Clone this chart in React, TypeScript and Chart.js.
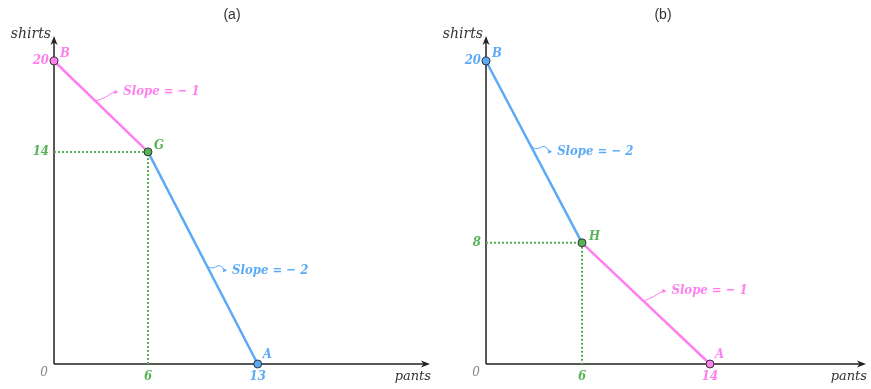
import React, { useEffect, useRef } from "react";
import { Chart, registerables } from "chart.js";
Chart.register(...registerables);

const PINK = "#ff7ff0";
const BLUE = "#5caaf6";
const GREEN = "#57b357";
const AXIS = "#222222";

// Panel (a)
const panelAName = "(a)";
const panelANames = ["B", "G", "A"];
const panelAX = [0, 6, 13];
const panelAY = [20, 14, 0];
const panelASlopes = ["Slope = \u2212 1", "Slope = \u2212 2"];
const panelAColors = [PINK, GREEN, BLUE];
const panelASegColors = [PINK, BLUE];

// Panel (b)
const panelBName = "(b)";
const panelBNames = ["B", "H", "A"];
const panelBX = [0, 6, 14];
const panelBY = [20, 8, 0];
const panelBSlopes = ["Slope = \u2212 2", "Slope = \u2212 1"];
const panelBColors = [BLUE, GREEN, PINK];
const panelBSegColors = [BLUE, PINK];

const xAxisTitle = "pants";
const yAxisTitle = "shirts";
const originLabel = "0";

const FAM = "'DejaVu Serif Condensed', 'DejaVu Serif'";
const LABEL_FONT = "italic bold 13px " + FAM;

type PanelCfg = {
  name: string;
  names: string[];
  xs: number[];
  ys: number[];
  slopes: string[];
  colors: string[];
  segColors: string[];
  width: number;
  axisLeft: number;
  padRight: number;
  xMax: number;
  yMax: number;
  titleX: number;
  leaders: { t: number; dx: number; dy: number }[];
  labelOffsets: { dx: number; dy: number }[];
};

function arrowHead(ctx: CanvasRenderingContext2D, x: number, y: number, dir: "up" | "right") {
  ctx.save();
  ctx.translate(x, y);
  if (dir === "up") ctx.rotate(-Math.PI / 2);
  ctx.beginPath();
  ctx.moveTo(0, 0);
  ctx.lineTo(-9, -3.5);
  ctx.lineTo(-6.5, 0);
  ctx.lineTo(-9, 3.5);
  ctx.closePath();
  ctx.fillStyle = AXIS;
  ctx.fill();
  ctx.restore();
}

function makePlugin(cfg: PanelCfg) {
  return {
    id: "annot" + cfg.name,
    beforeDatasetsDraw(chart: any) {
      const ctx: CanvasRenderingContext2D = chart.ctx;
      const ca = chart.chartArea;
      const x0 = chart.scales.x.getPixelForValue(0);
      const y0 = chart.scales.y.getPixelForValue(0);
      ctx.save();
      ctx.strokeStyle = AXIS;
      ctx.lineWidth = 1.5;
      ctx.beginPath();
      ctx.moveTo(x0, y0);
      ctx.lineTo(x0, ca.top + 4);
      ctx.moveTo(x0, y0);
      ctx.lineTo(ca.right - 4, y0);
      ctx.stroke();
      arrowHead(ctx, x0, ca.top, "up");
      arrowHead(ctx, ca.right, y0, "right");
      ctx.restore();
    },
    afterDraw(chart: any) {
      const ctx: CanvasRenderingContext2D = chart.ctx;
      const ca = chart.chartArea;
      const sx = chart.scales.x;
      const sy = chart.scales.y;
      const x0 = sx.getPixelForValue(0);
      const y0 = sy.getPixelForValue(0);
      ctx.save();
      // panel title
      ctx.fillStyle = "#333";
      ctx.font = "14px 'Liberation Sans'";
      ctx.textAlign = "center";
      ctx.textBaseline = "middle";
      ctx.fillText(cfg.name, cfg.titleX, 15);
      // axis titles
      ctx.font = "italic 14px 'DejaVu Serif'";
      ctx.fillStyle = "#333";
      ctx.textAlign = "right";
      ctx.fillText(yAxisTitle, x0 - 3, ca.top - 2);
      ctx.font = "italic 13px 'DejaVu Serif'";
      ctx.fillText(xAxisTitle, ca.right + 1, y0 + 13);
      // origin
      ctx.font = "italic 12px 'DejaVu Serif'";
      ctx.fillStyle = "#888";
      ctx.textAlign = "center";
      ctx.fillText(originLabel, x0 - 10, y0 + 9);
      // point labels
      ctx.textAlign = "left";
      ctx.font = "italic bold 13px " + FAM;
      cfg.names.forEach((n, i) => {
        const px = sx.getPixelForValue(cfg.xs[i]);
        const py = sy.getPixelForValue(cfg.ys[i]);
        ctx.fillStyle = cfg.colors[i];
        ctx.fillText(n, px + cfg.labelOffsets[i].dx, py + cfg.labelOffsets[i].dy);
      });
      // slope leaders
      ctx.font = LABEL_FONT;
      cfg.slopes.forEach((s, i) => {
        const L = cfg.leaders[i];
        const ax = sx.getPixelForValue(cfg.xs[i]);
        const ay = sy.getPixelForValue(cfg.ys[i]);
        const bx = sx.getPixelForValue(cfg.xs[i + 1]);
        const by = sy.getPixelForValue(cfg.ys[i + 1]);
        const px = ax + (bx - ax) * L.t;
        const py = ay + (by - ay) * L.t;
        const ex = px + L.dx;
        const ey = py + L.dy;
        const col = cfg.segColors[i];
        ctx.strokeStyle = col;
        ctx.fillStyle = col;
        ctx.lineWidth = 1;
        ctx.beginPath();
        ctx.moveTo(px, py);
        const mx = px + L.dx * 0.45;
        const my = py + L.dy * 0.45;
        ctx.quadraticCurveTo(px + L.dx * 0.2, my + 3, mx, my);
        ctx.quadraticCurveTo(px + L.dx * 0.7, my - 4, ex - 3, ey);
        ctx.stroke();
        ctx.beginPath();
        ctx.moveTo(ex, ey);
        ctx.lineTo(ex - 4, ey - 2.2);
        ctx.lineTo(ex - 4, ey + 2.2);
        ctx.closePath();
        ctx.fill();
        ctx.textAlign = "left";
        ctx.textBaseline = "middle";
        ctx.fillText(s, ex + 5, ey);
      });
      ctx.restore();
    },
  };
}

function Panel({ cfg }: { cfg: PanelCfg }) {
  const ref = useRef<HTMLCanvasElement | null>(null);
  useEffect(() => {
    if (!ref.current) return;
    const pts = cfg.xs.map((x, i) => ({ x, y: cfg.ys[i] }));
    const xTicks = [cfg.xs[1], cfg.xs[2]];
    const yTicks = [cfg.ys[1], cfg.ys[0]];
    const tickColor = (axis: "x" | "y") => (c: any) => {
      const v = c.tick && c.tick.value;
      if (axis === "x") return v === cfg.xs[1] ? cfg.colors[1] : cfg.colors[2];
      return v === cfg.ys[1] ? cfg.colors[1] : cfg.colors[0];
    };
    const tickFont = { family: FAM, style: "italic" as const, weight: "bold" as const, size: 13 };
    const chart = new Chart(ref.current, {
      type: "scatter",
      data: {
        datasets: [
          {
            data: pts,
            showLine: false,
            pointRadius: 4,
            pointBackgroundColor: cfg.colors,
            pointBorderColor: "#333",
            pointBorderWidth: 1,
            clip: false,
            order: 0,
          },
          {
            data: [pts[0], pts[1]],
            showLine: true,
            borderColor: cfg.segColors[0],
            borderWidth: 2.5,
            pointRadius: 0,
            clip: false,
            order: 1,
          },
          {
            data: [pts[1], pts[2]],
            showLine: true,
            borderColor: cfg.segColors[1],
            borderWidth: 2.5,
            pointRadius: 0,
            clip: false,
            order: 1,
          },
          {
            data: [
              { x: 0, y: cfg.ys[1] },
              { x: cfg.xs[1], y: cfg.ys[1] },
              { x: cfg.xs[1], y: 0 },
            ],
            showLine: true,
            borderColor: GREEN,
            borderWidth: 2,
            borderDash: [2, 2],
            pointRadius: 0,
            order: 2,
          },
        ] as any,
      },
      options: {
        animation: false,
        responsive: false,
        maintainAspectRatio: false,
        events: [],
        layout: { padding: { left: 0, right: cfg.padRight, top: 36, bottom: 0 } },
        plugins: { legend: { display: false }, tooltip: { enabled: false }, title: { display: false } },
        scales: {
          x: {
            type: "linear",
            min: 0,
            max: cfg.xMax,
            grid: { display: false, drawTicks: false },
            border: { display: false },
            afterBuildTicks: (s: any) => {
              s.ticks = xTicks.map((v) => ({ value: v }));
            },
            afterFit: (s: any) => {
              s.height = 25;
            },
            ticks: { color: tickColor("x") as any, font: tickFont, padding: 5, autoSkip: false, maxRotation: 0 },
          },
          y: {
            type: "linear",
            min: 0,
            max: cfg.yMax,
            grid: { display: false, drawTicks: false },
            border: { display: false },
            afterBuildTicks: (s: any) => {
              s.ticks = yTicks.map((v) => ({ value: v }));
            },
            afterFit: (s: any) => {
              s.width = cfg.axisLeft;
            },
            ticks: { color: tickColor("y") as any, font: tickFont, padding: 5, autoSkip: false },
          },
        },
      } as any,
      plugins: [makePlugin(cfg)],
    });
    return () => chart.destroy();
  }, [cfg]);
  return <canvas ref={ref} width={cfg.width} height={389} style={{ display: "block", width: cfg.width, height: 389 }} />;
}

const cfgA: PanelCfg = {
  name: panelAName,
  names: panelANames,
  xs: panelAX,
  ys: panelAY,
  slopes: panelASlopes,
  colors: panelAColors,
  segColors: panelASegColors,
  width: 435,
  axisLeft: 54,
  padRight: 3,
  xMax: 24,
  yMax: 21.65,
  titleX: 232,
  leaders: [
    { t: 0.44, dx: 23, dy: -9 },
    { t: 0.53, dx: 21, dy: 6 },
  ],
  labelOffsets: [
    { dx: 6, dy: -7 },
    { dx: 6, dy: -6 },
    { dx: 5, dy: -9 },
  ],
};

const cfgB: PanelCfg = {
  name: panelBName,
  names: panelBNames,
  xs: panelBX,
  ys: panelBY,
  slopes: panelBSlopes,
  colors: panelBColors,
  segColors: panelBSegColors,
  width: 436,
  axisLeft: 51,
  padRight: 5,
  xMax: 23.75,
  yMax: 21.65,
  titleX: 228,
  leaders: [
    { t: 0.46, dx: 22, dy: 7 },
    { t: 0.48, dx: 23, dy: -10 },
  ],
  labelOffsets: [
    { dx: 6, dy: -7 },
    { dx: 7, dy: -6 },
    { dx: 5, dy: -9 },
  ],
};

export default function App() {
  return (
    <div style={{ position: "fixed", left: 0, top: 0, width: 871, height: 389, display: "flex", background: "#fff" }}>
      <Panel cfg={cfgA} />
      <Panel cfg={cfgB} />
    </div>
  );
}
